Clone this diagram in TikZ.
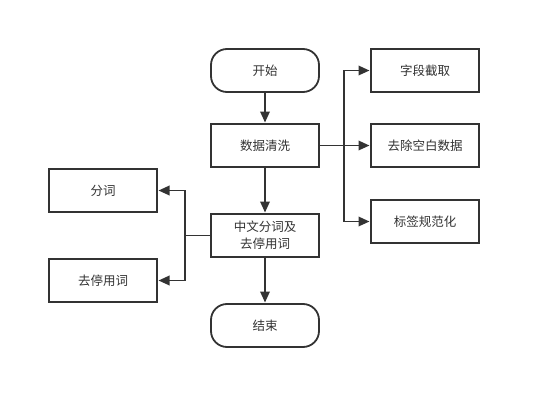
\documentclass[tikz,border=0pt]{standalone}
\usepackage{fontspec}
\setmainfont{Noto Sans CJK SC}
\usepackage{xcolor}
\usetikzlibrary{arrows.meta,positioning,calc}
\definecolor{inkgray}{HTML}{333333}

\begin{document}
\begin{tikzpicture}[x=1pt, y=-1pt, font=\fontsize{12.5pt}{17pt}\selectfont,
                    >={Triangle[length=11pt, width=9.5pt]}]
  \useasboundingbox (0,0) rectangle (542,410);
  \tikzset{procbox/.style={draw=inkgray, line width=1.8pt, text=inkgray,
                           minimum width=108pt, minimum height=43pt,
                           align=center, inner sep=2pt, outer sep=0pt,
                           fill=white},
           termbox/.style={procbox, rounded corners=16pt},
           link/.style={draw=inkgray, line width=1.8pt, ->, shorten >=1.5pt}}
  % main column
  \node[termbox] (start) at (265,70.5) {开始};
  \node[procbox, below=32pt of start] (clean) {数据清洗};
  \node[procbox, below=47pt of clean] (seg)   {中文分词及\\去停用词};
  \node[termbox, below=47pt of seg]   (stop)  {结束};

  % cleaning steps on the right
  \node[procbox, right=52pt of start] (cut)   {字段截取};
  \node[procbox, right=52pt of clean] (blank) {去除空白数据};
  \node[procbox, below=33pt of blank] (label) {标签规范化};

  % segmentation steps on the left
  \node[procbox, above left=2pt and 54pt of seg] (words) {分词};
  \node[procbox, below left=2pt and 54pt of seg] (stopw) {去停用词};

  \coordinate (rfork) at ($(clean.east)+(25,0)$);
  \coordinate (lfork) at ($(seg.west)+(-26,0)$);

  \draw[link] (start) -- (clean);
  \draw[link] (clean) -- (seg);
  \draw[link] (seg) -- (stop);

  \draw[draw=inkgray, line width=1.8pt] (clean.east) -- (rfork);
  \draw[link] (rfork) |- (cut.west);
  \draw[link] (rfork) -- (blank.west);
  \draw[link] (rfork) |- (label.west);

  \draw[draw=inkgray, line width=1.8pt] (seg.west) -- (lfork);
  \draw[link] (lfork) |- (words.east);
  \draw[link] (lfork) |- (stopw.east);
\end{tikzpicture}
\end{document}
